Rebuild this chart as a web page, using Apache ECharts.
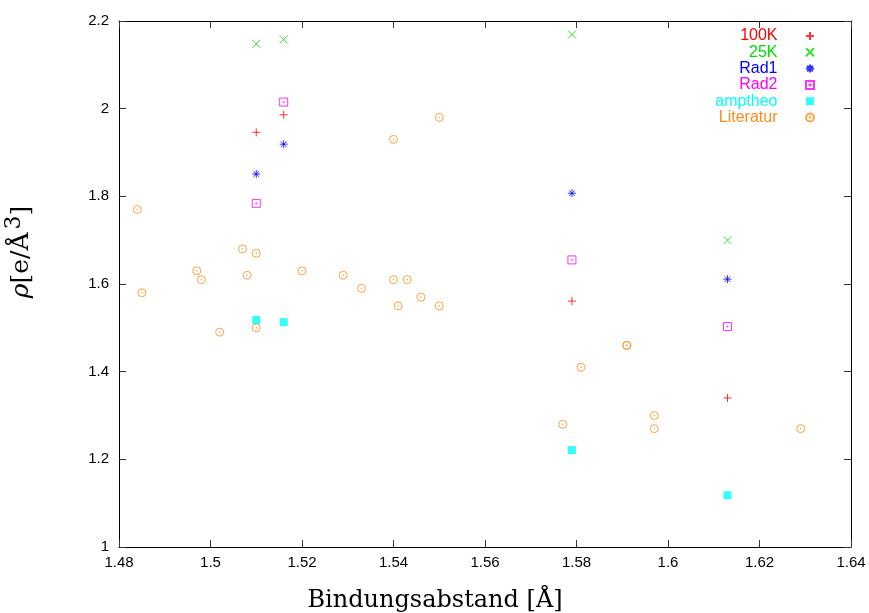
<!DOCTYPE html>
<html><head><meta charset="utf-8">
<script src="https://cdn.jsdelivr.net/npm/echarts@6/dist/echarts.min.js"></script>
<style>html,body{margin:0;padding:0;background:#fff}#c{width:869px;height:613px}</style>
</head><body><div id="c"></div>
<script>
// ---- data ----
const seriesNames = ['100K', '25K', 'Rad1', 'Rad2', 'amptheo', 'Literatur'];
const x100K = [1.510, 1.516, 1.579, 1.613];
const y100K = [1.946, 1.986, 1.561, 1.340];
const x25K = [1.510, 1.516, 1.579, 1.613];
const y25K = [2.148, 2.158, 2.169, 1.700];
const xRad1 = [1.510, 1.516, 1.579, 1.613];
const yRad1 = [1.851, 1.919, 1.807, 1.611];
const xRad2 = [1.510, 1.516, 1.579, 1.613];
const yRad2 = [1.784, 2.015, 1.655, 1.503];
const xAmptheo = [1.510, 1.516, 1.579, 1.613];
const yAmptheo = [1.518, 1.513, 1.221, 1.118];
const xLit = [1.484, 1.485, 1.497, 1.498, 1.502, 1.507, 1.508, 1.510, 1.510, 1.520,
              1.529, 1.533, 1.540, 1.540, 1.541, 1.543, 1.546, 1.550, 1.550, 1.577,
              1.581, 1.591, 1.591, 1.597, 1.597, 1.629];
const yLit = [1.770, 1.580, 1.630, 1.610, 1.490, 1.680, 1.620, 1.670, 1.500, 1.630,
              1.620, 1.590, 1.610, 1.930, 1.550, 1.610, 1.570, 1.550, 1.980, 1.280,
              1.410, 1.460, 1.460, 1.300, 1.270, 1.270];
const xTickLabels = ['1.48', '1.5', '1.52', '1.54', '1.56', '1.58', '1.6', '1.62', '1.64'];
const yTickLabels = ['1', '1.2', '1.4', '1.6', '1.8', '2', '2.2'];
const xTitle = 'Bindungsabstand [Å]';
const yTitle = '{i|ρ}[e/Å{s|3}]';

// ---- styling ----
const colors = ['#ff0000', '#00dd00', '#0000ff', '#ff00ff', '#00ffff', '#ff8c1a'];
const symbols = [
  'path://M4 0L4 8M0 4L8 4',
  'path://M0 0L8 8M8 0L0 8',
  'path://M4 0L4 8M0 4L8 4M1.2 1.2L6.8 6.8M6.8 1.2L1.2 6.8',
  'path://M0 0L8 0L8 8L0 8ZM3.6 3.6L4.4 3.6L4.4 4.4L3.6 4.4Z',
  'path://M0 0L8 0L8 8L0 8Z',
  'path://M0 4A4 4 0 1 0 8 4A4 4 0 1 0 0 4ZM3.6 4A0.4 0.4 0 1 0 4.4 4A0.4 0.4 0 1 0 3.6 4Z'
];
const xs = [x100K, x25K, xRad1, xRad2, xAmptheo, xLit];
const ys = [y100K, y25K, yRad1, yRad2, yAmptheo, yLit];

const series = seriesNames.map((n, i) => ({
  name: n,
  type: 'scatter',
  symbol: symbols[i],
  symbolSize: 8,
  data: xs[i].map((x, k) => [x, ys[i][k]]),
  itemStyle: i === 4
    ? { color: colors[i], borderWidth: 0 }
    : { color: 'transparent', borderColor: colors[i], borderWidth: 1 },
  emphasis: { disabled: true }
}));

const xMin = +xTickLabels[0], xMax = +xTickLabels[xTickLabels.length - 1];
const yMin = +yTickLabels[0], yMax = +yTickLabels[yTickLabels.length - 1];
const fmt = v => String(+(+v).toFixed(2));
const tickFont = { fontFamily: 'Liberation Sans', fontSize: 15, color: '#000' };

const baseX = {
  type: 'value', min: xMin, max: xMax, interval: 0.02,
  splitLine: { show: false },
  axisLine: { show: true, lineStyle: { color: '#000', width: 1 } },
  axisTick: { show: true, inside: true, length: 7, lineStyle: { color: '#333' } }
};
const baseY = {
  type: 'value', min: yMin, max: yMax, interval: 0.2,
  splitLine: { show: false },
  axisLine: { show: true, lineStyle: { color: '#000', width: 1 } },
  axisTick: { show: true, inside: true, length: 7, lineStyle: { color: '#333' } }
};

const chart = echarts.init(document.getElementById('c'), null, { renderer: 'canvas' });
chart.setOption({
  animation: false,
  backgroundColor: '#fff',
  grid: { left: 119, right: 18, top: 21, bottom: 66, containLabel: false, outerBoundsMode: 'none' },
  legend: {
    orient: 'vertical', align: 'right', right: 49, top: 23,
    itemWidth: 55, itemHeight: 8, itemGap: 0.3,
    selectedMode: false,
    textStyle: { fontFamily: 'Liberation Sans', fontSize: 16, lineHeight: 15.5 },
    data: seriesNames.map((n, i) => ({ name: n, textStyle: { color: colors[i] } }))
  },
  xAxis: [
    Object.assign({}, baseX, {
      position: 'bottom',
      axisLabel: Object.assign({ margin: 8, formatter: fmt }, tickFont),
      name: xTitle, nameLocation: 'middle', nameGap: 42,
      nameTextStyle: { fontFamily: 'DejaVu Serif', fontSize: 24, color: '#000', padding: [0, 100, 0, 0] }
    }),
    Object.assign({}, baseX, { position: 'top', axisLabel: { show: false } })
  ],
  yAxis: [
    Object.assign({}, baseY, {
      position: 'left',
      axisLabel: Object.assign({ margin: 10, formatter: fmt }, tickFont),
      name: yTitle, nameLocation: 'middle', nameGap: 80,
      nameTextStyle: {
        fontFamily: 'DejaVu Serif', fontSize: 25, color: '#000', padding: [0, 0, 0, 64],
        rich: {
          i: { fontFamily: 'DejaVu Serif', fontStyle: 'italic', fontSize: 25, color: '#000' },
          s: { fontFamily: 'DejaVu Serif', fontSize: 22, color: '#000', padding: [0, 0, 14, 3] }
        }
      }
    }),
    Object.assign({}, baseY, { position: 'right', axisLabel: { show: false } })
  ],
  series: series
});
</script></body></html>
